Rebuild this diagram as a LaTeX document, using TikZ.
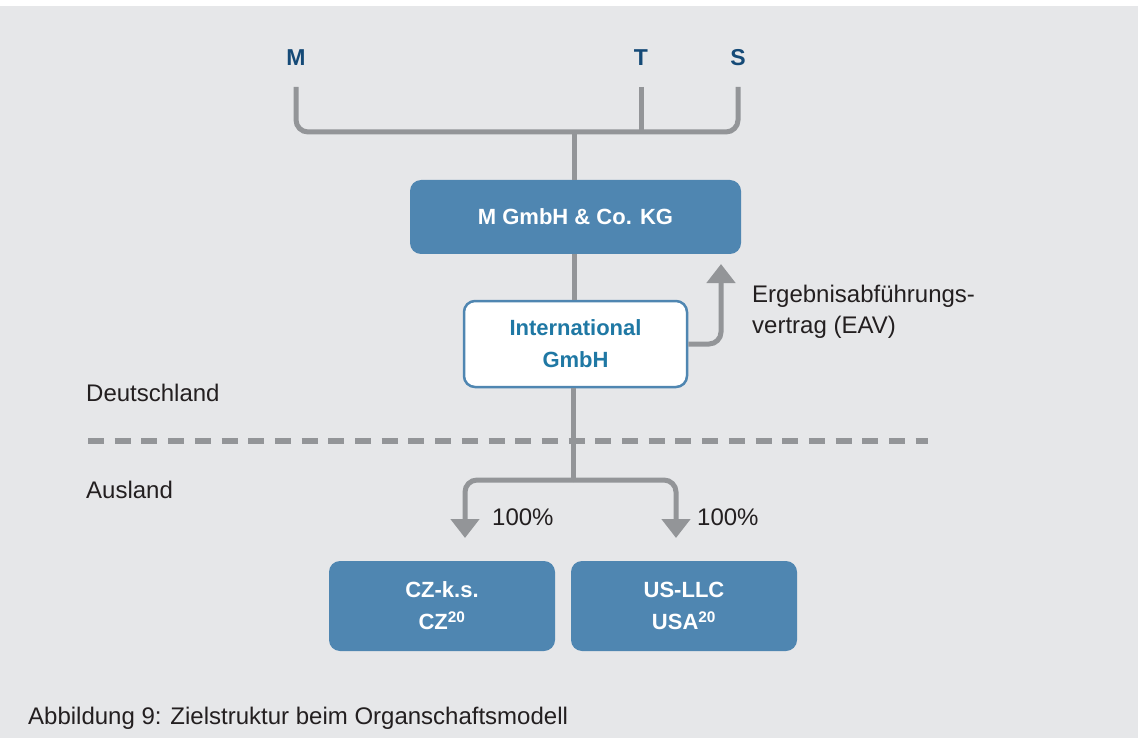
\documentclass[tikz,border=0pt]{standalone}
\usepackage{fontspec}
\setmainfont{Liberation Sans}
\usetikzlibrary{arrows.meta}
\definecolor{bggray}{HTML}{E6E7E9}
\definecolor{boxblue}{HTML}{4F86B1}
\definecolor{linegray}{HTML}{939598}
\definecolor{darkblue}{HTML}{154A77}
\definecolor{textblue}{HTML}{1F78A4}
\definecolor{textblack}{HTML}{231F20}

\begin{document}
\begin{tikzpicture}[x=1pt,y=-1pt,
	box node/.style={rectangle,rounded corners=11pt,fill=boxblue,text=white,
		font=\fontsize{22}{32}\selectfont\bfseries,align=center,inner sep=0pt},
	white node/.style={rectangle,rounded corners=11pt,draw=boxblue,line width=2.5pt,
		fill=white,text=textblue,font=\fontsize{22}{32}\selectfont\bfseries,align=center,inner sep=0pt},
	top node/.style={text=darkblue,font=\fontsize{23}{26}\selectfont\bfseries,inner sep=0pt},
	label node/.style={text=textblack,font=\fontsize{24}{31}\selectfont,inner sep=0pt,
		anchor=west,align=left},
	conn/.style={draw=linegray,line width=5pt,rounded corners=12pt},
	conn arrow/.style={-{Triangle[width=28pt,length=19pt]}}]
	
	% background
	\fill[white] (0,0) rectangle (1138,738);
	\fill[bggray] (0,6) rectangle (1138,738);
	
	% shareholders
	\node[top node] (m) at (296,58) {M};
	\node[top node] (t) at (641,58) {T};
	\node[top node] (s) at (738,58) {S};
	\coordinate (m end) at (296,87);
	\coordinate (t end) at (641,87);
	\coordinate (s end) at (738,87);
	\coordinate (join) at (574,132);
	
	% companies
	\node[box node,minimum width=331,minimum height=74] (kg) at (575.5,217) {M GmbH \& Co. KG};
	\node[white node,minimum width=223,minimum height=86] (intl) at (575.5,344) {International\\GmbH};
	\node[box node,minimum width=226,minimum height=90] (cz) at (442,606) {CZ-k.s.\\CZ\textsuperscript{20}};
	\node[box node,minimum width=226,minimum height=90] (us) at (684,606) {US-LLC\\USA\textsuperscript{20}};
	
	% texts
	\node[label node] (eav) at (752,312) {Ergebnisabführungs-\\vertrag (EAV)};
	\node[label node] (de) at (86,393) {Deutschland};
	\node[label node] (ausl) at (86,490) {Ausland};
	\node[label node] (pcz) at (492,517) {100\%};
	\node[label node] (pus) at (697,517) {100\%};
	\node[label node] (caption) at (28,718) {Abbildung 9: Zielstruktur beim Organschaftsmodell};
	
	% border line
	\draw[linegray,line width=5.5pt,dash pattern=on 16pt off 10.7pt] (88,441) -- (928,441);
	
	\coordinate (eav tip) at (721,264);
	\coordinate (split) at (573,480);
	\coordinate (cz tip) at (465,538);
	\coordinate (us tip) at (676,538);
	
	\draw[conn] (m end) |- (join) -| (s end);
	\draw[conn] (t end) -- (t end |- join);
	\draw[conn] (join) -- (kg.north -| join);
	\draw[conn] (kg.south -| join) -- (intl.north -| join);
	\draw[conn,conn arrow] (intl.east) -| (eav tip);
	\draw[conn] (intl.south -| split) -- (split);
	\draw[conn,conn arrow] (split) -| (cz tip);
	\draw[conn,conn arrow] (split) -| (us tip);
\end{tikzpicture}
\end{document}
